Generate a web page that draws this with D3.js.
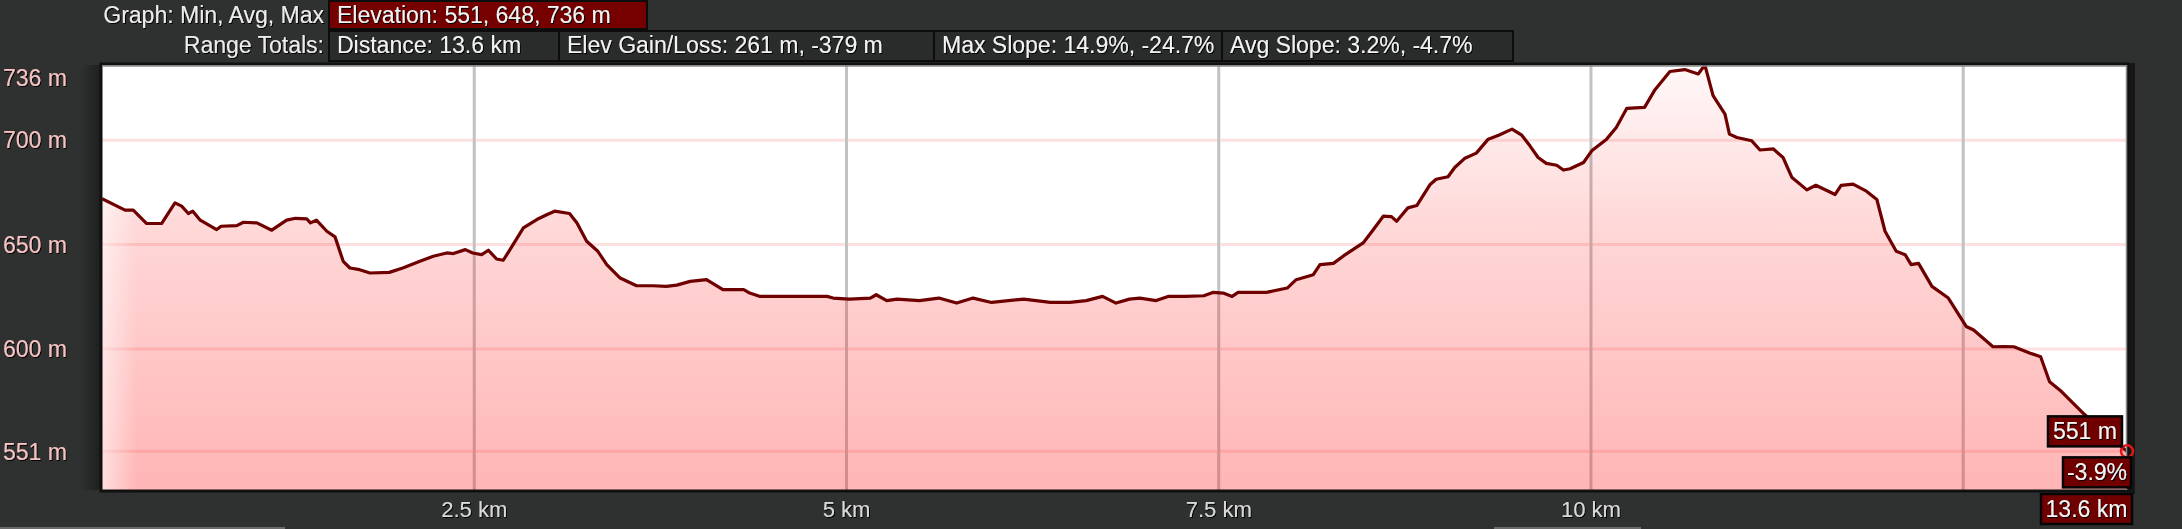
<!DOCTYPE html>
<html>
<head>
<meta charset="utf-8">
<script src="https://cdn.jsdelivr.net/npm/d3@7"></script>
<style>
  html, body { margin: 0; padding: 0; background: #2f3030; overflow: hidden; }
  svg { display: block; font-family: "Liberation Sans", Arial, sans-serif; }
</style>
</head>
<body>
<div id="chart"></div>
<script>
// distance along the track (km) and elevation (m)
const distKm = [
  0.00, 0.155, 0.21, 0.30, 0.40, 0.49, 0.535, 0.58, 0.61, 0.66, 0.77, 0.80, 0.905, 0.95, 1.04,
  1.14, 1.24, 1.30, 1.375, 1.40, 1.44, 1.51, 1.565, 1.62, 1.665, 1.73, 1.80, 1.93, 2.02, 2.135,
  2.225, 2.315, 2.36, 2.44, 2.49, 2.55, 2.595, 2.65, 2.695, 2.74, 2.83, 2.92, 2.99, 3.04, 3.14,
  3.19, 3.255, 3.33, 3.39, 3.48, 3.59, 3.70, 3.79, 3.86, 3.95, 4.06, 4.17, 4.31, 4.35, 4.42,
  4.87, 4.91, 5.02, 5.16, 5.20, 5.27, 5.34, 5.49, 5.62, 5.74, 5.85, 5.975, 6.19, 6.37, 6.50,
  6.61, 6.72, 6.81, 6.90, 6.97, 7.08, 7.16, 7.28, 7.40, 7.46, 7.53, 7.59, 7.63, 7.82, 7.96,
  8.02, 8.135, 8.18, 8.27, 8.34, 8.47, 8.53, 8.605, 8.66, 8.695, 8.77, 8.83, 8.92, 8.96, 9.04,
  9.085, 9.15, 9.23, 9.31, 9.38, 9.47, 9.535, 9.59, 9.645, 9.70, 9.77, 9.815, 9.86, 9.95, 10.005,
  10.105, 10.17, 10.24, 10.36, 10.43, 10.53, 10.63, 10.72, 10.765, 10.82, 10.90, 10.93, 10.98, 11.08, 11.135,
  11.225, 11.29, 11.35, 11.45, 11.51, 11.64, 11.68, 11.76, 11.85, 11.92, 11.975, 12.05, 12.11, 12.15, 12.20,
  12.29, 12.40, 12.52, 12.57, 12.70, 12.77, 12.84, 12.95, 13.02, 13.08, 13.15, 13.31, 13.45, 13.60
];
const elevM = [
  672.0, 666.5, 666.5, 660.1, 660.1, 670.0, 668.4, 664.9, 666.0, 661.7, 657.2, 658.8, 659.1, 660.7, 660.4,
  656.9, 661.7, 662.6, 662.3, 660.4, 661.7, 656.4, 653.7, 642.0, 638.8, 638.0, 636.4, 636.7, 638.8, 642.0,
  644.4, 646.0, 645.7, 647.6, 646.0, 645.2, 647.3, 643.1, 642.5, 647.6, 658.0, 662.0, 664.4, 666.0, 664.9,
  660.4, 651.6, 646.8, 640.4, 634.0, 630.3, 630.3, 630.0, 630.6, 632.4, 633.2, 628.4, 628.4, 626.8, 625.2,
  625.2, 624.4, 623.9, 624.4, 626.0, 623.2, 623.9, 623.2, 624.4, 622.0, 624.4, 622.3, 623.9, 622.3, 622.3,
  623.2, 625.2, 622.0, 623.9, 624.4, 623.2, 625.2, 625.2, 625.5, 627.1, 626.8, 625.2, 627.1, 627.1, 629.2,
  633.2, 635.6, 640.4, 641.0, 644.7, 650.8, 656.4, 663.6, 663.4, 661.2, 667.6, 668.7, 678.8, 681.3, 682.5,
  686.9, 691.2, 693.8, 700.5, 702.4, 705.3, 702.4, 697.3, 691.7, 688.9, 688.0, 685.7, 686.3, 689.3, 694.9,
  700.5, 706.1, 715.2, 715.7, 724.2, 732.9, 733.8, 731.7, 736.0, 721.3, 712.5, 702.9, 701.3, 699.7, 695.3,
  695.8, 691.7, 682.1, 676.2, 678.4, 674.0, 678.4, 679.0, 675.6, 671.6, 656.4, 646.8, 645.2, 640.4, 641.0,
  630.0, 624.4, 610.8, 609.1, 601.1, 601.2, 601.1, 598.0, 596.3, 584.3, 580.3, 569.0, 560.0, 551.0
];

const yLabelValues = [551, 600, 650, 700, 736];
const yGridValues = [551, 600, 650, 700];
const xGridValues = [2.5, 5, 7.5, 10, 12.5];
const xLabelValues = [2.5, 5, 7.5, 10];

const graphLabel = 'Graph: Min, Avg, Max';
const graphStats = ['Elevation: 551, 648, 736 m'];
const totalsLabel = 'Range Totals:';
const rangeTotals = ['Distance: 13.6 km', 'Elev Gain/Loss: 261 m, -379 m', 'Max Slope: 14.9%, -24.7%', 'Avg Slope: 3.2%, -4.7%'];
const endSlope = '-3.9%';

const W = 2182, H = 529;
const plot = { left: 102, right: 2127, top: 65, bottom: 490 };
const FONT = 23;

const svg = d3.select('#chart').append('svg')
  .attr('width', W)
  .attr('height', H);

const defs = svg.append('defs');

const areaGrad = defs.append('linearGradient')
  .attr('id', 'areaGrad')
  .attr('gradientUnits', 'userSpaceOnUse')
  .attr('x1', 0).attr('x2', 0)
  .attr('y1', plot.top).attr('y2', plot.bottom);
areaGrad.append('stop').attr('offset', 0).attr('stop-color', '#ff1010').attr('stop-opacity', 0.03);
areaGrad.append('stop').attr('offset', 0.4).attr('stop-color', '#ff1010').attr('stop-opacity', 0.17);
areaGrad.append('stop').attr('offset', 1).attr('stop-color', '#ff1010').attr('stop-opacity', 0.31);

const leftFade = defs.append('linearGradient')
  .attr('id', 'leftFade')
  .attr('gradientUnits', 'userSpaceOnUse')
  .attr('x1', plot.left).attr('x2', plot.left + 35)
  .attr('y1', 0).attr('y2', 0);
leftFade.append('stop').attr('offset', 0).attr('stop-color', '#fff').attr('stop-opacity', 0.55);
leftFade.append('stop').attr('offset', 1).attr('stop-color', '#fff').attr('stop-opacity', 0);

const axisShade = defs.append('linearGradient')
  .attr('id', 'axisShade')
  .attr('x1', 0).attr('x2', 1).attr('y1', 0).attr('y2', 0);
axisShade.append('stop').attr('offset', 0).attr('stop-color', '#000').attr('stop-opacity', 0);
axisShade.append('stop').attr('offset', 1).attr('stop-color', '#000').attr('stop-opacity', 0.35);

const shadow = defs.append('filter').attr('id', 'txtShadow')
  .attr('x', -0.1).attr('y', -0.2).attr('width', 1.3).attr('height', 1.5);
shadow.append('feDropShadow')
  .attr('dx', 1).attr('dy', 1).attr('stdDeviation', 0.7)
  .attr('flood-color', '#000').attr('flood-opacity', 1);

defs.append('clipPath').attr('id', 'plotClip')
  .append('rect')
  .attr('x', plot.left).attr('y', plot.top)
  .attr('width', plot.right - plot.left).attr('height', plot.bottom - plot.top);

// background
svg.append('rect').attr('width', W).attr('height', H).attr('fill', '#2f3030');
svg.append('rect')
  .attr('x', plot.left - 22).attr('y', plot.top)
  .attr('width', 20).attr('height', plot.bottom - plot.top)
  .attr('fill', 'url(#axisShade)');
svg.append('rect')
  .attr('x', plot.right + 2).attr('y', plot.top - 2)
  .attr('width', 6).attr('height', plot.bottom - plot.top + 6)
  .attr('fill', '#161616');
svg.append('rect').attr('x', 0).attr('y', H - 2).attr('width', 285).attr('height', 2).attr('fill', '#6a6a6a');
svg.append('rect').attr('x', 1494).attr('y', H - 2).attr('width', 147).attr('height', 2).attr('fill', '#6a6a6a');

const x = d3.scaleLinear().domain([0, 13.6]).range([plot.left, plot.right]);
const y = d3.scaleLinear().domain([532.5, 736]).range([plot.bottom, plot.top]);

const points = distKm.map((d, i) => ({ d, e: elevM[i] }));

const g = svg.append('g').attr('clip-path', 'url(#plotClip)');

g.append('rect')
  .attr('x', plot.left).attr('y', plot.top)
  .attr('width', plot.right - plot.left).attr('height', plot.bottom - plot.top)
  .attr('fill', '#ffffff');

// grid
g.selectAll('.hgrid')
  .data(yGridValues)
  .join('line')
  .attr('class', 'hgrid')
  .attr('x1', plot.left).attr('x2', plot.right)
  .attr('y1', d => y(d)).attr('y2', d => y(d))
  .attr('stroke', '#fde1e1')
  .attr('stroke-width', 3);

g.selectAll('.vgrid')
  .data(xGridValues)
  .join('line')
  .attr('class', 'vgrid')
  .attr('x1', d => x(d)).attr('x2', d => x(d))
  .attr('y1', plot.top).attr('y2', plot.bottom)
  .attr('stroke', '#c2c2c2')
  .attr('stroke-width', 3);

const area = d3.area()
  .x(p => x(p.d))
  .y0(plot.bottom + 5)
  .y1(p => y(p.e));

const line = d3.line()
  .x(p => x(p.d))
  .y(p => y(p.e));

g.append('path')
  .datum(points)
  .attr('d', area)
  .attr('fill', 'url(#areaGrad)');

g.append('path')
  .datum(points)
  .attr('d', area)
  .attr('fill', 'url(#leftFade)');

g.append('path')
  .datum(points)
  .attr('d', line)
  .attr('fill', 'none')
  .attr('stroke', '#6e0000')
  .attr('stroke-width', 3.2)
  .attr('stroke-linejoin', 'round');

// plot frame
svg.append('rect')
  .attr('x', plot.left - 1).attr('y', plot.top - 1)
  .attr('width', plot.right - plot.left + 2).attr('height', plot.bottom - plot.top + 2)
  .attr('fill', 'none')
  .attr('stroke', '#101010')
  .attr('stroke-width', 3);
svg.append('line')
  .attr('x1', plot.left).attr('x2', plot.right)
  .attr('y1', plot.top + 1).attr('y2', plot.top + 1)
  .attr('stroke', '#8a8a8a').attr('stroke-width', 1.5);
svg.append('line')
  .attr('x1', plot.right - 0.5).attr('x2', plot.right - 0.5)
  .attr('y1', plot.top).attr('y2', plot.bottom)
  .attr('stroke', '#8a8a8a').attr('stroke-width', 1.5);

// y labels
svg.selectAll('.ylab')
  .data(yLabelValues)
  .join('text')
  .attr('class', 'ylab')
  .attr('x', 3)
  .attr('y', d => Math.max(y(d), plot.top + 13))
  .attr('dy', '0.36em')
  .attr('font-size', FONT)
  .attr('fill', '#f6c3c3')
  .attr('filter', 'url(#txtShadow)')
  .text(d => `${d} m`);

// x labels
svg.selectAll('.xlab')
  .data(xLabelValues)
  .join('text')
  .attr('class', 'xlab')
  .attr('x', d => x(d))
  .attr('y', 517)
  .attr('text-anchor', 'middle')
  .attr('font-size', 22)
  .attr('fill', '#d9d9d9')
  .attr('filter', 'url(#txtShadow)')
  .text(d => `${d} km`);

// header
const header = svg.append('g');
header.append('text')
  .attr('x', 324).attr('y', 23)
  .attr('text-anchor', 'end')
  .attr('font-size', FONT)
  .attr('fill', '#ececec')
  .attr('filter', 'url(#txtShadow)')
  .text(graphLabel);
header.append('text')
  .attr('x', 324).attr('y', 53)
  .attr('text-anchor', 'end')
  .attr('font-size', FONT)
  .attr('fill', '#ececec')
  .attr('filter', 'url(#txtShadow)')
  .text(totalsLabel);

const statEdges = [329, 647];
const totalEdges = [329, 559, 934, 1222, 1513];

const statBoxes = header.selectAll('.statBox')
  .data(graphStats)
  .join('g')
  .attr('class', 'statBox');
statBoxes.append('rect')
  .attr('x', (d, i) => statEdges[i]).attr('y', 1)
  .attr('width', (d, i) => statEdges[i + 1] - statEdges[i]).attr('height', 28)
  .attr('fill', '#760000').attr('stroke', '#0c0c0c').attr('stroke-width', 2);
statBoxes.append('text')
  .attr('x', (d, i) => statEdges[i] + 8).attr('y', 23)
  .attr('font-size', FONT).attr('fill', '#f2f2f2')
  .attr('filter', 'url(#txtShadow)')
  .text(d => d);

const totalBoxes = header.selectAll('.totalBox')
  .data(rangeTotals)
  .join('g')
  .attr('class', 'totalBox');
totalBoxes.append('rect')
  .attr('x', (d, i) => totalEdges[i]).attr('y', 31)
  .attr('width', (d, i) => totalEdges[i + 1] - totalEdges[i]).attr('height', 30)
  .attr('fill', '#2a2b2b').attr('stroke', '#0c0c0c').attr('stroke-width', 2);
totalBoxes.append('text')
  .attr('x', (d, i) => totalEdges[i] + 8).attr('y', 53)
  .attr('font-size', FONT).attr('fill', '#f2f2f2')
  .attr('filter', 'url(#txtShadow)')
  .text(d => d);

// end-of-track marker and value tags
const last = points[points.length - 1];
svg.append('circle')
  .attr('cx', x(last.d)).attr('cy', y(last.e))
  .attr('r', 6)
  .attr('fill', 'none')
  .attr('stroke', '#e01818')
  .attr('stroke-width', 2.5);

function tag(text, right, top, width) {
  const t = svg.append('g');
  t.append('rect')
    .attr('x', right - width).attr('y', top)
    .attr('width', width).attr('height', 30)
    .attr('fill', '#700000').attr('stroke', '#050505').attr('stroke-width', 2.5);
  t.append('text')
    .attr('x', right - width / 2).attr('y', top + 23)
    .attr('text-anchor', 'middle')
    .attr('font-size', FONT).attr('fill', '#f4f4f4')
    .attr('filter', 'url(#txtShadow)')
    .text(text);
}
tag(`${last.e} m`, x(last.d) - 5, y(last.e) - 35, 74);
tag(endSlope, x(last.d) + 4, y(last.e) + 6, 68);
tag(`${last.d.toFixed(1)} km`, x(last.d) + 5, plot.bottom + 4, 91);
</script>
</body>
</html>
